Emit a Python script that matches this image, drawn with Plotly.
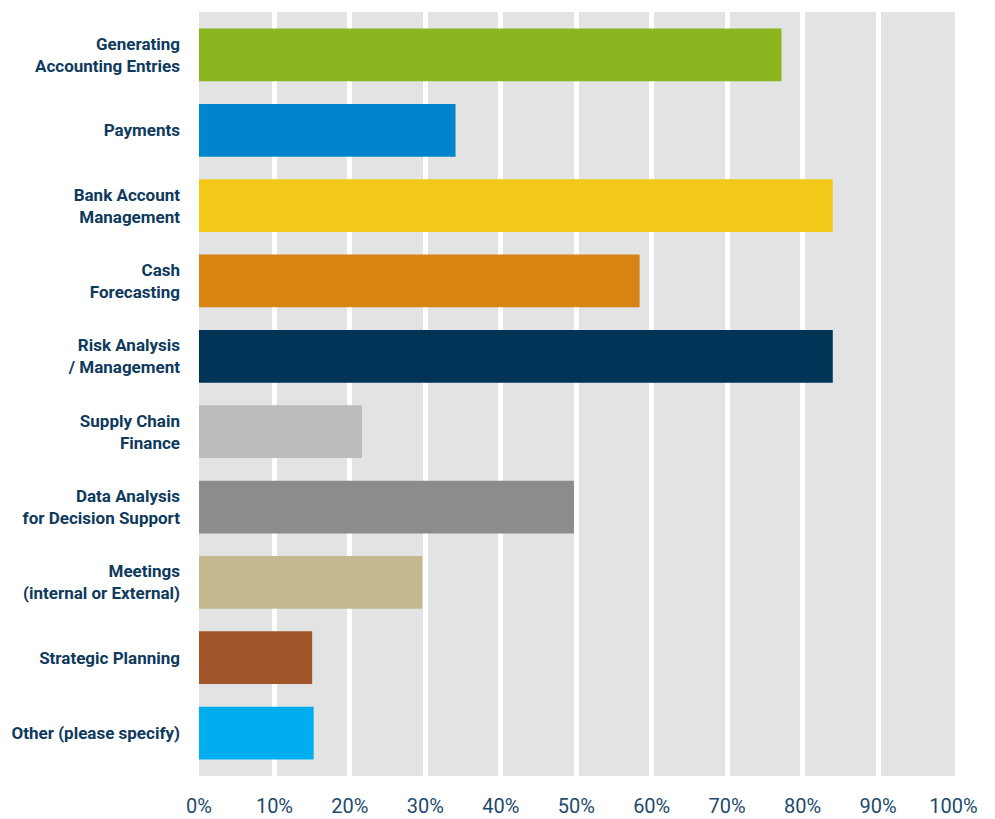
import plotly.graph_objects as go

# Share of respondents selecting each treasury activity
categories = [
    "Generating<br>Accounting Entries",
    "Payments",
    "Bank Account<br>Management",
    "Cash<br>Forecasting",
    "Risk Analysis<br>/ Management",
    "Supply Chain<br>Finance",
    "Data Analysis<br>for Decision Support",
    "Meetings<br>(internal or External)",
    "Strategic Planning",
    "Other (please specify)",
]
values = [77.2, 34.0, 84.0, 58.4, 84.0, 21.6, 49.7, 29.6, 15.0, 15.2]
bar_colors = [
    "#8cb61f", "#0085cc", "#f2c918", "#d98313", "#003457",
    "#bbbcbb", "#8b8c8e", "#c2b98e", "#a0552a", "#00aeef",
]
grid_ticks = [10, 20, 30, 40, 50, 60, 70, 80, 90]
label_ticks = [0, 10, 20, 30, 40, 50, 60, 70, 80, 90, 100]
label_text = [f"{v}%" for v in label_ticks]

TEXT = "#0e3a5e"

fig = go.Figure(
    go.Bar(
        x=values,
        y=categories,
        orientation="h",
        marker=dict(color=bar_colors, line=dict(width=0)),
        width=0.7,
        hoverinfo="x+y",
    )
)

fig.update_layout(
    width=995,
    height=819,
    margin=dict(l=199, r=40, t=12, b=43),
    paper_bgcolor="white",
    plot_bgcolor="#e2e3e3",
    showlegend=False,
    xaxis=dict(
        range=[0, 100.2],
        tickvals=grid_ticks,
        showticklabels=False,
        showgrid=True,
        gridcolor="white",
        gridwidth=5,
        zeroline=False,
        showline=False,
        ticks="",
        automargin=False,
        fixedrange=True,
    ),
    xaxis2=dict(
        overlaying="x",
        anchor="y",
        side="bottom",
        range=[0, 100.2],
        tickvals=label_ticks,
        ticktext=label_text,
        showgrid=False,
        zeroline=False,
        showline=False,
        ticks="",
        automargin=False,
        ticklabelstandoff=16,
        tickfont=dict(family="Roboto", size=20, color="#1d4a6e"),
    ),
    yaxis=dict(
        autorange=False,
        range=[9.57, -0.57],
        showgrid=False,
        zeroline=False,
        showline=False,
        ticks="",
        automargin=False,
        ticklabelstandoff=18,
        tickfont=dict(family="Roboto", size=17, color=TEXT, weight="bold"),
    ),
)

# invisible trace so the label axis is drawn
fig.add_trace(
    go.Scatter(
        x=[0, 100], y=[categories[0], categories[0]],
        xaxis="x2", mode="markers", marker=dict(opacity=0),
        hoverinfo="skip",
    )
)

fig.write_html("out.html")
